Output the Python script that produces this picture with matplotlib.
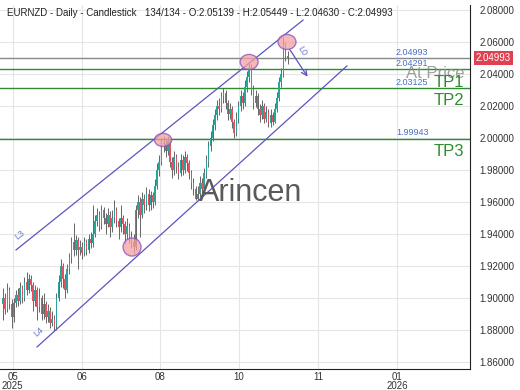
import matplotlib
matplotlib.use("Agg")
import matplotlib.pyplot as plt
from matplotlib.patches import Ellipse

plt.rcParams['font.family'] = ['Liberation Sans', 'DejaVu Sans']

# daily closes, highs, lows (opens = previous close)
first_open = 1.896
closes = [1.900, 1.893, 1.905, 1.896, 1.888, 1.897, 1.902, 1.898, 1.906, 1.900,
          1.910, 1.905, 1.912, 1.908, 1.898, 1.905, 1.894, 1.900, 1.890, 1.896,
          1.888, 1.892, 1.884, 1.887, 1.882, 1.900, 1.910, 1.920, 1.912, 1.905,
          1.918, 1.925, 1.935, 1.930, 1.936, 1.930, 1.932, 1.928, 1.935, 1.930,
          1.937, 1.934, 1.940, 1.948, 1.952, 1.945, 1.955, 1.950, 1.946, 1.952,
          1.944, 1.950, 1.955, 1.948, 1.944, 1.950, 1.946, 1.940, 1.945, 1.938,
          1.935, 1.932, 1.955, 1.960, 1.952, 1.962, 1.958, 1.965, 1.958, 1.964,
          1.960, 1.970, 1.980, 1.985, 1.997, 1.996, 1.992, 1.998, 1.985, 1.980,
          1.988, 1.982, 1.978, 1.986, 1.980, 1.988, 1.984, 1.978, 1.972, 1.968,
          1.962, 1.965, 1.972, 1.968, 1.978, 1.985, 1.995, 2.000, 2.008, 2.014,
          2.020, 2.018, 2.026, 2.028, 2.022, 2.015, 2.018, 2.010, 2.003, 2.012,
          2.020, 2.026, 2.022, 2.032, 2.038, 2.044, 2.030, 2.022, 2.026, 2.018,
          2.014, 2.020, 2.012, 2.016, 2.009, 2.014, 2.010, 2.018, 2.025, 2.035,
          2.040, 2.058, 2.05139, 2.04993]
highs = [1.906, 1.903, 1.909, 1.907, 1.899, 1.900, 1.905, 1.906, 1.910, 1.908,
         1.913, 1.916, 1.915, 1.914, 1.910, 1.908, 1.907, 1.906, 1.902, 1.903,
         1.898, 1.896, 1.894, 1.892, 1.889, 1.903, 1.914, 1.924, 1.922, 1.915,
         1.921, 1.928, 1.938, 1.947, 1.939, 1.938, 1.936, 1.935, 1.938, 1.937,
         1.940, 1.941, 1.958, 1.952, 1.956, 1.954, 1.958, 1.957, 1.953, 1.956,
         1.954, 1.955, 1.961, 1.957, 1.950, 1.958, 1.952, 1.948, 1.950, 1.947,
         1.942, 1.940, 1.958, 1.964, 1.963, 1.966, 1.965, 1.969, 1.968, 1.967,
         1.966, 1.974, 1.984, 1.989, 2.000, 2.001, 1.999, 2.001, 1.999, 1.988,
         1.992, 1.990, 1.985, 1.990, 1.989, 1.992, 1.990, 1.986, 1.980, 1.975,
         1.970, 1.970, 1.976, 1.975, 1.981, 1.989, 1.998, 2.004, 2.012, 2.018,
         2.024, 2.025, 2.029, 2.031, 2.030, 2.024, 2.022, 2.020, 2.012, 2.016,
         2.023, 2.030, 2.029, 2.036, 2.042, 2.047, 2.046, 2.033, 2.030, 2.028,
         2.021, 2.024, 2.022, 2.020, 2.018, 2.018, 2.016, 2.022, 2.029, 2.038,
         2.044, 2.063, 2.060, 2.05449]
lows = [1.886, 1.890, 1.891, 1.893, 1.881, 1.885, 1.894, 1.895, 1.896, 1.897,
        1.898, 1.902, 1.903, 1.904, 1.892, 1.895, 1.886, 1.891, 1.886, 1.887,
        1.884, 1.885, 1.881, 1.882, 1.879, 1.880, 1.898, 1.907, 1.906, 1.900,
        1.903, 1.915, 1.922, 1.926, 1.927, 1.918, 1.927, 1.924, 1.926, 1.927,
        1.928, 1.931, 1.932, 1.938, 1.945, 1.942, 1.943, 1.946, 1.940, 1.944,
        1.938, 1.941, 1.947, 1.944, 1.937, 1.941, 1.940, 1.934, 1.937, 1.934,
        1.931, 1.928, 1.930, 1.950, 1.938, 1.950, 1.953, 1.955, 1.954, 1.955,
        1.956, 1.958, 1.968, 1.976, 1.983, 1.991, 1.988, 1.989, 1.982, 1.975,
        1.977, 1.978, 1.974, 1.976, 1.977, 1.978, 1.979, 1.974, 1.968, 1.964,
        1.961, 1.961, 1.963, 1.965, 1.966, 1.975, 1.982, 1.992, 1.998, 2.005,
        2.011, 2.014, 2.016, 2.022, 2.018, 2.011, 2.012, 2.006, 2.000, 2.001,
        2.009, 2.017, 2.018, 2.020, 2.029, 2.035, 2.027, 2.018, 2.019, 2.014,
        2.010, 2.012, 2.009, 2.010, 2.007, 2.007, 2.008, 2.009, 2.016, 2.023,
        2.032, 2.038, 2.048, 2.0463]
opens = [first_open] + closes[:-1]

# levels
last_price = 2.04993
tp_levels = [2.04291, 2.03125, 1.99943]
tp_names = ["TP1", "TP2", "TP3"]

# channel / arrow end points (bar index, price)
upper_line = ([6.1, 140.2], [1.9299, 2.0737])
lower_line = ([15.9, 160.7], [1.8692, 2.0450])
arrow_from = (133.2, 2.0569)
arrow_to = (143.0, 2.0368)

# touch points (bar index, price, w, h)
touches = [(60.3, 1.9317, 8.4, 0.0113),
           (74.8, 1.9987, 8.0, 0.0082),
           (115.0, 2.0475, 8.4, 0.0094),
           (132.7, 2.0600, 8.4, 0.0094)]

tick_pos = [4.5, 36.9, 73.4, 110.3, 147.2, 184.1]
tick_labels = ["05\n2025", "06", "08", "10", "11", "01\n2026"]
y_ticks = [1.86, 1.88, 1.90, 1.92, 1.94, 1.96, 1.98, 2.00, 2.02, 2.04, 2.06, 2.08]

up_col = '#26a69a'
down_col = '#e8505f'
line_col = '#5a55c0'
green = '#2e8b2e'

fig = plt.figure(figsize=(5.2, 3.9), dpi=100)
ax = fig.add_axes([0.0, 0.0538, 0.9038, 0.9333])

x = list(range(len(closes)))
cols = [up_col if c >= o else down_col for o, c in zip(opens, closes)]
ax.vlines(x, lows, highs, color='#666666', lw=0.7, zorder=2)
bottoms = [min(o, c) for o, c in zip(opens, closes)]
heights = [max(abs(c - o), 0.0006) for o, c in zip(opens, closes)]
ax.bar(x, heights, bottom=bottoms, width=0.7, color=cols, lw=0, zorder=3)

# horizontal levels
ax.axhline(last_price, color='#888888', lw=1, zorder=1)
for lv in tp_levels:
    ax.axhline(lv, color=green, lw=1, zorder=1)

lbl_x = 183.6
for lv in [last_price] + tp_levels:
    ax.annotate(f"{lv:.5f}", (lbl_x, lv), xytext=(0, 1), textcoords='offset points',
                color='#4a6fc8', fontsize=6.5, va='bottom', ha='left')

ax.annotate("At Price", (215.5, last_price), xytext=(0, -5.5), textcoords='offset points',
            color='#888888', alpha=0.8, fontsize=12, ha='right', va='top')
for lv, nm in zip(tp_levels, tp_names):
    ax.annotate(nm, (215.5, lv), xytext=(0, -4), textcoords='offset points',
                color=green, fontsize=12, ha='right', va='top')

# channel lines
ax.plot(*upper_line, color=line_col, lw=0.9, zorder=4)
ax.plot(*lower_line, color=line_col, lw=0.9, zorder=4)
ax.text(7.9, 1.9393, "L3", color='#6a78cc', fontsize=6.5, rotation=38,
        ha='center', va='center')
ax.text(16.6, 1.8786, "L4", color='#6a78cc', fontsize=6.5, rotation=40,
        ha='center', va='center')
ax.annotate("", xy=arrow_to, xytext=arrow_from,
            arrowprops=dict(arrowstyle='->', color=line_col, lw=0.9))
ax.text(139.6, 2.0545, "L0", color='#6a78cc', fontsize=6.5, rotation=-58,
        ha='center', va='center')

for cx, cy, w, h in touches:
    ax.add_patch(Ellipse((cx, cy), w, h, facecolor='#f4a0a0', alpha=0.75,
                         edgecolor='#8a4fc0', lw=1, zorder=5))

ax.text(115.9, 1.9655, "Arincen", color='#5a5a5a', fontsize=22,
        ha='center', va='center', zorder=6)

ax.text(0.015, 0.977, "EURNZD - Daily - Candlestick", transform=ax.transAxes,
        fontsize=7, color='#222222', va='center', ha='left')
ax.text(0.308, 0.977, "134/134 - O:2.05139 - H:2.05449 - L:2.04630 - C:2.04993",
        transform=ax.transAxes, fontsize=7, color='#222222', va='center', ha='left')

ax.set_xlim(-1.4, 218.2)
ax.set_ylim(1.8554, 2.0831)
ax.set_xticks(tick_pos)
ax.set_xticklabels(tick_labels, fontsize=7, color='#333333', linespacing=0.9)
ax.set_yticks(y_ticks)
ax.set_yticklabels([f"{v:.5f}" for v in y_ticks], fontsize=7, color='#333333')
ax.yaxis.tick_right()
ax.tick_params(axis='both', length=0)
ax.tick_params(axis='y', pad=7)
ax.tick_params(axis='x', pad=2)
ax.grid(True, color='#e6e6e6', lw=0.8, zorder=0)
ax.set_axisbelow(True)
for s in ['top', 'left']:
    ax.spines[s].set_visible(False)
ax.spines['right'].set_color('#222222')
ax.spines['bottom'].set_color('#222222')

# price tag on the right axis
ax.text(1.012, last_price, f"{last_price:.5f}", transform=ax.get_yaxis_transform(),
        color='white', fontsize=7, va='center', ha='left',
        bbox=dict(boxstyle='square,pad=0.2', facecolor='#e0404f', edgecolor='none'))

fig.savefig("out.png", dpi=100)
